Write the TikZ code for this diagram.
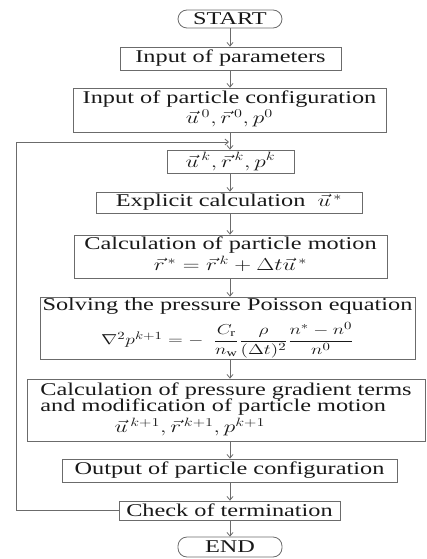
\documentclass[tikz,border=0pt]{standalone}
\usepackage{amsmath}
\usepackage{fontspec}
\setmainfont{Liberation Serif}
\usepackage{graphicx}
\usetikzlibrary{arrows.meta}
\newcommand{\sx}[1]{\scalebox{1.35}[1]{#1}}
\definecolor{linec}{gray}{0.42}
\definecolor{txtc}{gray}{0.1}
\begin{document}
\begin{tikzpicture}[x=1pt,y=-1pt,
  box/.style={draw=linec, line width=0.8pt, inner sep=0pt, text=txtc,
    font=\fontsize{18}{17}\selectfont},
  pill/.style={box, rounded corners=9pt},
  arr/.style={draw=linec, line width=0.8pt, -{Straight Barb[length=3.5pt,width=6pt]}}]
\useasboundingbox (0,0) rectangle (426,559);
\coordinate (ax) at (230,0);
\node[pill, minimum width=104pt, minimum height=18pt] (start) at (230,19) {\sx{START}};
\node[box, minimum width=221pt, minimum height=23pt] (params) at (230.5,58.5) {\sx{Input of parameters}};
\node[box, minimum width=313pt, minimum height=44pt] (config) at (229.5,110)
  {\sx{\begin{tabular}{@{}c@{}}Input of particle configuration\\[1pt] $\vec{u}^{\,0}, \vec{r}^{\,0}, p^0$\end{tabular}}};
\node[box, minimum width=127pt, minimum height=23pt] (uk) at (230.5,161.5) {\sx{$\vec{u}^{\,k}, \vec{r}^{\,k}, p^k$}};
\node[box, minimum width=266pt, minimum height=21pt] (expl) at (229,202.5) {\sx{Explicit calculation\ \ $\vec{u}^{\,*}$}};
\node[box, minimum width=313pt, minimum height=43pt] (motion) at (230.5,256.5)
  {\sx{\begin{tabular}{@{}c@{}}Calculation of particle motion\\[1pt] $\vec{r}^{\,*} = \vec{r}^{\,k} + \Delta t\vec{u}^{\,*}$\end{tabular}}};
\node[box, minimum width=375pt, minimum height=62pt] (poisson) at (227.5,328)
  {\sx{\begin{tabular}{@{}c@{}}Solving the pressure Poisson equation\\[7pt]
   {\fontsize{15}{15}\selectfont$\nabla^2 p^{k+1} = -\ \ \dfrac{C_\mathrm{r}}{n_\mathrm{w}}\dfrac{\rho}{(\Delta t)^2}\dfrac{n^*-n^0}{n^0}$}\end{tabular}}};
\node[box, minimum width=398pt, minimum height=62pt] (grad) at (226,410)
  {\sx{\begin{tabular}{@{}l@{}}Calculation of pressure gradient terms\\[-1pt]
   and modification of particle motion\\[1pt]
   \hspace{55pt}$\vec{u}^{\,k+1}, \vec{r}^{\,k+1}, p^{k+1}$\end{tabular}}};
\node[box, minimum width=335pt, minimum height=23pt] (output) at (229.5,470.5) {\sx{Output of particle configuration}};
\node[box, minimum width=221pt, minimum height=19pt] (check) at (229.5,510.5) {\sx{Check of termination}};
\node[pill, minimum width=104pt, minimum height=20pt] (end) at (230,547) {\sx{END}};
\draw[arr] (start.south -| ax) -- (params.north -| ax);
\draw[arr] (params.south -| ax) -- (config.north -| ax);
\draw[arr] (config.south -| ax) -- (uk.north -| ax);
\draw[arr] (uk.south -| ax) -- (expl.north -| ax);
\draw[arr] (expl.south -| ax) -- (motion.north -| ax);
\draw[arr] (motion.south -| ax) -- (poisson.north -| ax);
\draw[arr] (poisson.south -| ax) -- (grad.north -| ax);
\draw[arr] (grad.south -| ax) -- (output.north -| ax);
\draw[arr] (output.south -| ax) -- (check.north -| ax);
\draw[arr] (check.south -| ax) -- (end.north -| ax);
\coordinate (lt) at (16,142);
\coordinate (lj) at (229,142);
\draw[arr] (check.west) -| (lt) -- (lj);
\end{tikzpicture}
\end{document}
